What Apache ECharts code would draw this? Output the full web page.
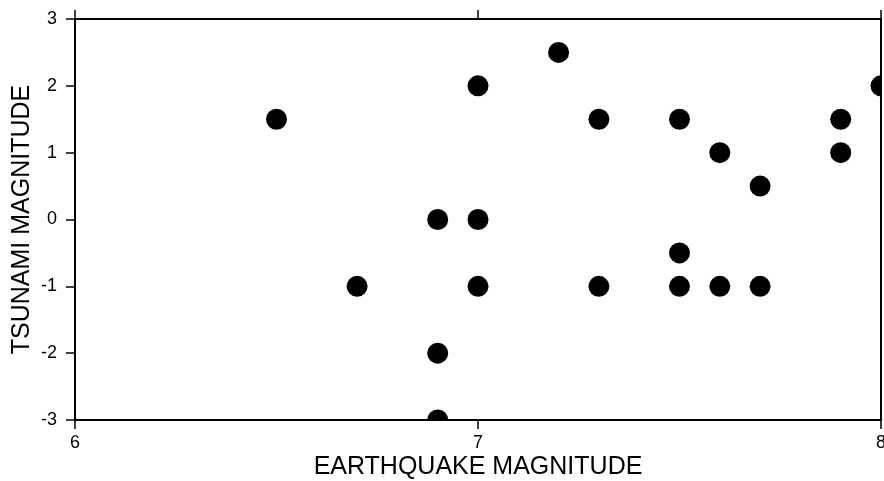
<!DOCTYPE html>
<html><head><meta charset="utf-8">
<script src="https://cdn.jsdelivr.net/npm/echarts@6/dist/echarts.min.js"></script>
<style>html,body{margin:0;padding:0;background:#fff}#c{width:884px;height:481px}</style>
</head><body><div id="c"></div>
<script>
var earthquake = [6.5, 6.7, 6.9, 6.9, 6.9, 7.0, 7.0, 7.0, 7.2, 7.3, 7.3, 7.5, 7.5, 7.5, 7.6, 7.6, 7.7, 7.7, 7.9, 7.9, 8.0];
var tsunami    = [1.5, -1,  0,   -2,  -3,  2,   0,   -1,  2.5, 1.5, -1,  1.5, -0.5, -1, 1,   -1,  0.5, -1,  1.5, 1,   2];
var xTicks = [6, 7, 8];
var yTicks = [-3, -2, -1, 0, 1, 2, 3];
var pts = earthquake.map(function(x, i){ return [x, tsunami[i]]; });
var font = 'Liberation Sans';
var G = {left: 75, right: 3, top: 19, bottom: 61, containLabel: false, outerBoundsMode: 'none'};
var chart = echarts.init(document.getElementById('c'));
function axLine(){ return {show: true, onZero: false, lineStyle: {color: '#000', width: 2}}; }
function tick(){ return {show: true, inside: false, length: 9, lineStyle: {color: '#000', width: 1.5}}; }
chart.setOption({
  animation: false,
  grid: G,
  graphic: [
    {type: 'rect', z: 5, silent: true, shape: {x: 0, y: 481 - G.bottom + 1, width: 884, height: G.bottom}, style: {fill: '#fff'}},
    {type: 'rect', z: 5, silent: true, shape: {x: 884 - G.right + 1, y: 0, width: G.right, height: 481}, style: {fill: '#fff'}}
  ],
  xAxis: [{
    type: 'value', min: 6, max: 8, interval: 1, position: 'bottom', z: 10,
    name: 'EARTHQUAKE MAGNITUDE', nameLocation: 'middle', nameGap: 35, nameMoveOverlap: false,
    nameTextStyle: {fontFamily: font, fontSize: 25, color: '#000'},
    axisLine: axLine(), axisTick: tick(),
    axisLabel: {fontFamily: font, fontSize: 18, color: '#000', margin: 14},
    splitLine: {show: false}
  }, {
    type: 'value', min: 6, max: 8, interval: 1, position: 'top', z: 10,
    axisLine: axLine(), axisTick: tick(),
    axisLabel: {show: false}, splitLine: {show: false}
  }],
  yAxis: [{
    type: 'value', min: -3, max: 3, interval: 1, position: 'left', z: 10,
    name: 'TSUNAMI MAGNITUDE', nameLocation: 'middle', nameGap: 40, nameMoveOverlap: false,
    nameTextStyle: {fontFamily: font, fontSize: 25, color: '#000'},
    axisLine: axLine(), axisTick: tick(),
    axisLabel: {fontFamily: font, fontSize: 18, color: '#000', margin: 18},
    splitLine: {show: false}
  }, {
    type: 'value', min: -3, max: 3, interval: 1, position: 'right', z: 10,
    axisLine: axLine(),
    axisTick: {show: false}, axisLabel: {show: false}, splitLine: {show: false}
  }],
  series: [{
    type: 'scatter', xAxisIndex: 0, yAxisIndex: 0, data: pts,
    symbol: 'circle', symbolSize: 21, clip: false,
    itemStyle: {color: '#000', opacity: 1}
  }]
});
</script></body></html>
